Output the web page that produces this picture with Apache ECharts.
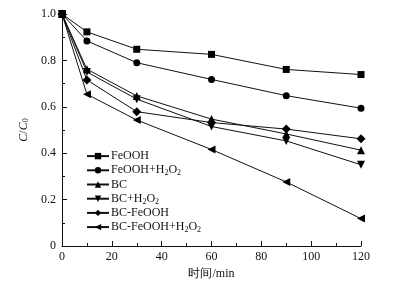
<!DOCTYPE html>
<html><head><meta charset="utf-8">
<script src="https://cdn.jsdelivr.net/npm/echarts@6/dist/echarts.min.js"></script>
<style>html,body{margin:0;padding:0;background:#fff}#c{width:416px;height:290px}</style>
</head><body><div id="c"></div>
<script>
const times = [0, 10, 30, 60, 90, 120];
const seriesNames = ['FeOOH', 'FeOOH+H2O2', 'BC', 'BC+H2O2', 'BC-FeOOH', 'BC-FeOOH+H2O2'];
const legendLabels = ['FeOOH', 'FeOOH+H{s|2}O{s|2}', 'BC', 'BC+H{s|2}O{s|2}', 'BC-FeOOH', 'BC-FeOOH+H{s|2}O{s|2}'];
const feooh = [1.0, 0.923, 0.848, 0.826, 0.761, 0.739];
const feoohH2O2 = [1.0, 0.884, 0.790, 0.718, 0.648, 0.594];
const bc = [1.0, 0.762, 0.647, 0.547, 0.483, 0.413];
const bcH2O2 = [1.0, 0.750, 0.633, 0.515, 0.453, 0.350];
const bcFeooh = [1.0, 0.716, 0.579, 0.532, 0.504, 0.462];
const bcFeoohH2O2 = [1.0, 0.654, 0.543, 0.416, 0.276, 0.118];
const xTicks = [0, 20, 40, 60, 80, 100, 120];
const yTicks = [0, 0.2, 0.4, 0.6, 0.8, 1.0];

const values = [feooh, feoohH2O2, bc, bcH2O2, bcFeooh, bcFeoohH2O2];
const symbols = ['rect', 'circle', 'triangle', 'triangle', 'diamond', 'triangle'];
const rotations = [0, 0, 0, 180, 0, 90];
const sizes = [7, 7, 8, 8, 9, 8];
const font = '"Liberation Serif","Times New Roman",serif';

const chart = echarts.init(document.getElementById('c'));
chart.setOption({
  animation: false,
  backgroundColor: '#fff',
  grid: {left: 62, right: 55, top: 14, bottom: 44},
  legend: {
    orient: 'vertical', left: 86, top: 149, padding: 0,
    itemWidth: 22, itemHeight: 8, itemGap: 0,
    symbolRotate: 'inherit',
    data: seriesNames,
    formatter: function (n) { return legendLabels[seriesNames.indexOf(n)]; },
    textStyle: {fontFamily: font, fontSize: 12, lineHeight: 14.2, color: '#111', padding: [0,0,0,-3],
      rich: {s: {fontFamily: font, fontSize: 8, lineHeight: 14.2, verticalAlign: 'bottom', padding: [4,0,0,0], color: '#111'}}}
  },
  xAxis: {
    type: 'value', min: 0, max: 120, interval: 20,
    name: '时间/min', nameLocation: 'middle', nameGap: 20,
    nameTextStyle: {fontFamily: font, fontSize: 12, color: '#111'},
    axisLine: {lineStyle: {color: '#111', width: 1}},
    axisTick: {inside: true, length: 5, lineStyle: {color: '#111'}},
    minorTick: {show: true, splitNumber: 2, length: 3, lineStyle: {color: '#111'}},
    axisLabel: {fontFamily: font, fontSize: 12, color: '#111', margin: 5,
      formatter: function (v) { return xTicks.indexOf(v) >= 0 ? String(v) : ''; }},
    splitLine: {show: false}
  },
  yAxis: {
    type: 'value', min: 0, max: 1, interval: 0.2,
    name: '{i|C}/{i|C}{s|0}', nameLocation: 'middle', nameGap: 21, nameRotate: 90,
    nameTextStyle: {fontFamily: font, fontSize: 12, color: '#111',
      rich: {i: {fontFamily: font, fontSize: 12, fontStyle: 'italic', color: '#111'},
             s: {fontFamily: font, fontSize: 8, color: '#111', verticalAlign: 'bottom', padding: [5,0,0,0]}}},
    axisLine: {show: true, lineStyle: {color: '#111', width: 1}},
    axisTick: {show: true, inside: true, length: 5, lineStyle: {color: '#111'}},
    minorTick: {show: true, splitNumber: 2, length: 3, lineStyle: {color: '#111'}},
    axisLabel: {fontFamily: font, fontSize: 12, color: '#111', margin: 6,
      formatter: function (v) {
        const t = yTicks.find(function (y) { return Math.abs(y - v) < 1e-6; });
        if (t === undefined) return '';
        return t === 0 ? '0' : t.toFixed(1);
      }},
    splitLine: {show: false}
  },
  series: seriesNames.map(function (n, i) {
    return {
      name: n, type: 'line',
      data: times.map(function (t, j) { return [t, values[i][j]]; }),
      symbol: symbols[i], symbolRotate: rotations[i], symbolSize: sizes[i],
      showAllSymbol: true,
      lineStyle: {color: '#111', width: 1},
      itemStyle: {color: '#000', borderWidth: 0},
      emphasis: {disabled: true}
    };
  })
});
</script></body></html>
